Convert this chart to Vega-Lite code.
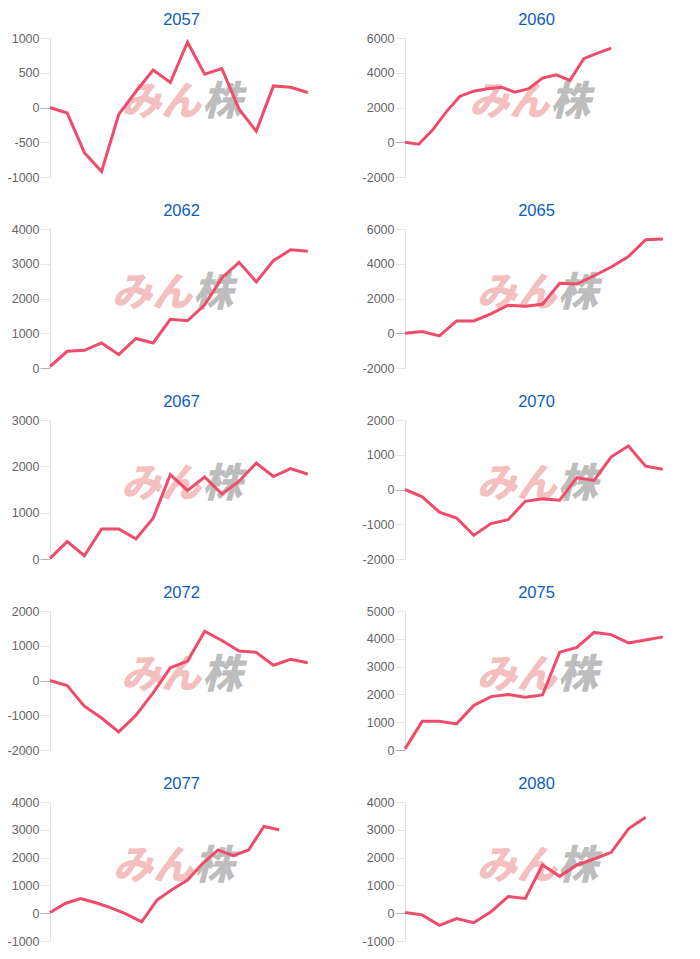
{
  "$schema": "https://vega.github.io/schema/vega-lite/v6.json",
  "padding": {"left": 7, "top": 11, "right": 0, "bottom": 0},
  "background": "white",
  "datasets": {
    "wa": [{"t": "みん"}],
    "wb": [{"t": "株"}],
    "d": [
      {"s": "2057", "i": 0, "v": 0}, {"s": "2057", "i": 1, "v": -80}, {"s": "2057", "i": 2, "v": -650}, {"s": "2057", "i": 3, "v": -920},
      {"s": "2057", "i": 4, "v": -100}, {"s": "2057", "i": 5, "v": 230}, {"s": "2057", "i": 6, "v": 540}, {"s": "2057", "i": 7, "v": 360},
      {"s": "2057", "i": 8, "v": 940}, {"s": "2057", "i": 9, "v": 480}, {"s": "2057", "i": 10, "v": 560}, {"s": "2057", "i": 11, "v": -25},
      {"s": "2057", "i": 12, "v": -340}, {"s": "2057", "i": 13, "v": 310}, {"s": "2057", "i": 14, "v": 290}, {"s": "2057", "i": 15, "v": 215},

      {"s": "2060", "i": 0, "v": 0}, {"s": "2060", "i": 1, "v": -115}, {"s": "2060", "i": 2, "v": 700}, {"s": "2060", "i": 3, "v": 1750},
      {"s": "2060", "i": 4, "v": 2650}, {"s": "2060", "i": 5, "v": 2940}, {"s": "2060", "i": 6, "v": 3080}, {"s": "2060", "i": 7, "v": 3170},
      {"s": "2060", "i": 8, "v": 2880}, {"s": "2060", "i": 9, "v": 3080}, {"s": "2060", "i": 10, "v": 3690}, {"s": "2060", "i": 11, "v": 3880},
      {"s": "2060", "i": 12, "v": 3560}, {"s": "2060", "i": 13, "v": 4810}, {"s": "2060", "i": 14, "v": 5130}, {"s": "2060", "i": 15, "v": 5420},

      {"s": "2062", "i": 0, "v": 40}, {"s": "2062", "i": 1, "v": 480}, {"s": "2062", "i": 2, "v": 510}, {"s": "2062", "i": 3, "v": 720},
      {"s": "2062", "i": 4, "v": 385}, {"s": "2062", "i": 5, "v": 850}, {"s": "2062", "i": 6, "v": 720}, {"s": "2062", "i": 7, "v": 1400},
      {"s": "2062", "i": 8, "v": 1360}, {"s": "2062", "i": 9, "v": 1820}, {"s": "2062", "i": 10, "v": 2590}, {"s": "2062", "i": 11, "v": 3040},
      {"s": "2062", "i": 12, "v": 2480}, {"s": "2062", "i": 13, "v": 3090}, {"s": "2062", "i": 14, "v": 3400}, {"s": "2062", "i": 15, "v": 3360},

      {"s": "2065", "i": 0, "v": 0}, {"s": "2065", "i": 1, "v": 100}, {"s": "2065", "i": 2, "v": -150}, {"s": "2065", "i": 3, "v": 710},
      {"s": "2065", "i": 4, "v": 710}, {"s": "2065", "i": 5, "v": 1115}, {"s": "2065", "i": 6, "v": 1615}, {"s": "2065", "i": 7, "v": 1560},
      {"s": "2065", "i": 8, "v": 1670}, {"s": "2065", "i": 9, "v": 2880}, {"s": "2065", "i": 10, "v": 2830}, {"s": "2065", "i": 11, "v": 3310},
      {"s": "2065", "i": 12, "v": 3810}, {"s": "2065", "i": 13, "v": 4420}, {"s": "2065", "i": 14, "v": 5380}, {"s": "2065", "i": 15, "v": 5420},

      {"s": "2067", "i": 0, "v": 15}, {"s": "2067", "i": 1, "v": 375}, {"s": "2067", "i": 2, "v": 70}, {"s": "2067", "i": 3, "v": 650},
      {"s": "2067", "i": 4, "v": 650}, {"s": "2067", "i": 5, "v": 435}, {"s": "2067", "i": 6, "v": 880}, {"s": "2067", "i": 7, "v": 1820},
      {"s": "2067", "i": 8, "v": 1480}, {"s": "2067", "i": 9, "v": 1770}, {"s": "2067", "i": 10, "v": 1400}, {"s": "2067", "i": 11, "v": 1680},
      {"s": "2067", "i": 12, "v": 2070}, {"s": "2067", "i": 13, "v": 1780}, {"s": "2067", "i": 14, "v": 1950}, {"s": "2067", "i": 15, "v": 1830},

      {"s": "2070", "i": 0, "v": 0}, {"s": "2070", "i": 1, "v": -210}, {"s": "2070", "i": 2, "v": -650}, {"s": "2070", "i": 3, "v": -820},
      {"s": "2070", "i": 4, "v": -1320}, {"s": "2070", "i": 5, "v": -980}, {"s": "2070", "i": 6, "v": -870}, {"s": "2070", "i": 7, "v": -340},
      {"s": "2070", "i": 8, "v": -270}, {"s": "2070", "i": 9, "v": -310}, {"s": "2070", "i": 10, "v": 340}, {"s": "2070", "i": 11, "v": 260},
      {"s": "2070", "i": 12, "v": 940}, {"s": "2070", "i": 13, "v": 1250}, {"s": "2070", "i": 14, "v": 670}, {"s": "2070", "i": 15, "v": 580},

      {"s": "2072", "i": 0, "v": 0}, {"s": "2072", "i": 1, "v": -145}, {"s": "2072", "i": 2, "v": -740}, {"s": "2072", "i": 3, "v": -1080},
      {"s": "2072", "i": 4, "v": -1480}, {"s": "2072", "i": 5, "v": -1000}, {"s": "2072", "i": 6, "v": -355}, {"s": "2072", "i": 7, "v": 365},
      {"s": "2072", "i": 8, "v": 560}, {"s": "2072", "i": 9, "v": 1420}, {"s": "2072", "i": 10, "v": 1150}, {"s": "2072", "i": 11, "v": 850},
      {"s": "2072", "i": 12, "v": 810}, {"s": "2072", "i": 13, "v": 440}, {"s": "2072", "i": 14, "v": 610}, {"s": "2072", "i": 15, "v": 510},

      {"s": "2075", "i": 0, "v": 40}, {"s": "2075", "i": 1, "v": 1030}, {"s": "2075", "i": 2, "v": 1030}, {"s": "2075", "i": 3, "v": 940},
      {"s": "2075", "i": 4, "v": 1600}, {"s": "2075", "i": 5, "v": 1920}, {"s": "2075", "i": 6, "v": 2000}, {"s": "2075", "i": 7, "v": 1900},
      {"s": "2075", "i": 8, "v": 1980}, {"s": "2075", "i": 9, "v": 3520}, {"s": "2075", "i": 10, "v": 3690}, {"s": "2075", "i": 11, "v": 4230},
      {"s": "2075", "i": 12, "v": 4150}, {"s": "2075", "i": 13, "v": 3850}, {"s": "2075", "i": 14, "v": 3960}, {"s": "2075", "i": 15, "v": 4070},

      {"s": "2077", "i": 0, "v": 25}, {"s": "2077", "i": 1, "v": 350}, {"s": "2077", "i": 2, "v": 530}, {"s": "2077", "i": 3, "v": 375},
      {"s": "2077", "i": 4, "v": 190}, {"s": "2077", "i": 5, "v": -35}, {"s": "2077", "i": 6, "v": -310}, {"s": "2077", "i": 7, "v": 470},
      {"s": "2077", "i": 8, "v": 855}, {"s": "2077", "i": 9, "v": 1190}, {"s": "2077", "i": 10, "v": 1795}, {"s": "2077", "i": 11, "v": 2275},
      {"s": "2077", "i": 12, "v": 2070}, {"s": "2077", "i": 13, "v": 2275}, {"s": "2077", "i": 14, "v": 3120}, {"s": "2077", "i": 15, "v": 3000},

      {"s": "2080", "i": 0, "v": 25}, {"s": "2080", "i": 1, "v": -60}, {"s": "2080", "i": 2, "v": -435}, {"s": "2080", "i": 3, "v": -190},
      {"s": "2080", "i": 4, "v": -340}, {"s": "2080", "i": 5, "v": 50}, {"s": "2080", "i": 6, "v": 600}, {"s": "2080", "i": 7, "v": 530},
      {"s": "2080", "i": 8, "v": 1735}, {"s": "2080", "i": 9, "v": 1325}, {"s": "2080", "i": 10, "v": 1735}, {"s": "2080", "i": 11, "v": 1950},
      {"s": "2080", "i": 12, "v": 2190}, {"s": "2080", "i": 13, "v": 3035}, {"s": "2080", "i": 14, "v": 3455}
    ]
  },
  "columns": 2,
  "spacing": {"row": 18, "column": 37},
  "concat": [
    {
      "title": "2057", "width": 275, "height": 139,
      "resolve": {"axis": {"x": "independent", "y": "independent"}},
      "layer": [
        {"data": {"name": "wa"}, "mark": {"type": "text", "align": "right", "baseline": "middle", "dx": 4, "font": "Noto Sans CJK JP", "fontSize": 40, "fontWeight": 900, "fontStyle": "italic", "color": "#f3bfbf"},
         "encoding": {"text": {"field": "t"}, "x": {"datum": 8.56, "type": "quantitative", "axis": null}, "y": {"datum": 70, "type": "quantitative", "axis": null}}},
        {"data": {"name": "wb"}, "mark": {"type": "text", "align": "left", "baseline": "middle", "dx": 5, "font": "Noto Sans CJK JP", "fontSize": 40, "fontWeight": 900, "fontStyle": "italic", "color": "#bdbdbd"},
         "encoding": {"text": {"field": "t"}, "x": {"datum": 8.56, "type": "quantitative", "axis": null}, "y": {"datum": 70, "type": "quantitative", "axis": null}}},
        {"data": {"name": "d"}, "transform": [{"filter": "datum.s === '2057'"}], "mark": {"type": "line", "color": "#ef4b6a", "strokeWidth": 3},
         "encoding": {"x": {"field": "i", "type": "quantitative", "scale": {"domain": [0, 16]}, "axis": null},
                      "y": {"field": "v", "type": "quantitative", "scale": {"domain": [-1000, 1000]},
                            "axis": {"values": [-1000, -500, 0, 500, 1000], "title": null, "labelFont": "Liberation Sans", "labelFontSize": 12.5, "labelColor": "#666666", "labelOverlap": false, "labelPadding": 1, "tickSize": 10, "domainColor": "#e0e0e0", "labelExpr": "datum.value < 0 ? '-' + abs(datum.value) : '' + datum.value", "gridColor": {"condition": {"test": "datum.value === 0", "value": "#b5b5b5"}, "value": "#e6e6e6"}, "tickColor": {"condition": {"test": "datum.value === 0", "value": "#b5b5b5"}, "value": "#e6e6e6"}}}}}
      ]
    },
    {
      "title": "2060", "width": 275, "height": 139,
      "resolve": {"axis": {"x": "independent", "y": "independent"}},
      "layer": [
        {"data": {"name": "wa"}, "mark": {"type": "text", "align": "right", "baseline": "middle", "dx": 4, "font": "Noto Sans CJK JP", "fontSize": 40, "fontWeight": 900, "fontStyle": "italic", "color": "#f3bfbf"},
         "encoding": {"text": {"field": "t"}, "x": {"datum": 10.2, "type": "quantitative", "axis": null}, "y": {"datum": 2240, "type": "quantitative", "axis": null}}},
        {"data": {"name": "wb"}, "mark": {"type": "text", "align": "left", "baseline": "middle", "dx": 5, "font": "Noto Sans CJK JP", "fontSize": 40, "fontWeight": 900, "fontStyle": "italic", "color": "#bdbdbd"},
         "encoding": {"text": {"field": "t"}, "x": {"datum": 10.2, "type": "quantitative", "axis": null}, "y": {"datum": 2240, "type": "quantitative", "axis": null}}},
        {"data": {"name": "d"}, "transform": [{"filter": "datum.s === '2060'"}], "mark": {"type": "line", "color": "#ef4b6a", "strokeWidth": 3},
         "encoding": {"x": {"field": "i", "type": "quantitative", "scale": {"domain": [0, 19]}, "axis": null},
                      "y": {"field": "v", "type": "quantitative", "scale": {"domain": [-2000, 6000]},
                            "axis": {"values": [-2000, 0, 2000, 4000, 6000], "title": null, "labelFont": "Liberation Sans", "labelFontSize": 12.5, "labelColor": "#666666", "labelOverlap": false, "labelPadding": 1, "tickSize": 10, "domainColor": "#e0e0e0", "labelExpr": "datum.value < 0 ? '-' + abs(datum.value) : '' + datum.value", "gridColor": {"condition": {"test": "datum.value === 0", "value": "#b5b5b5"}, "value": "#e6e6e6"}, "tickColor": {"condition": {"test": "datum.value === 0", "value": "#b5b5b5"}, "value": "#e6e6e6"}}}}}
      ]
    },
    {
      "title": "2062", "width": 275, "height": 139,
      "resolve": {"axis": {"x": "independent", "y": "independent"}},
      "layer": [
        {"data": {"name": "wa"}, "mark": {"type": "text", "align": "right", "baseline": "middle", "dx": 4, "font": "Noto Sans CJK JP", "fontSize": 40, "fontWeight": 900, "fontStyle": "italic", "color": "#f3bfbf"},
         "encoding": {"text": {"field": "t"}, "x": {"datum": 8.03, "type": "quantitative", "axis": null}, "y": {"datum": 2140, "type": "quantitative", "axis": null}}},
        {"data": {"name": "wb"}, "mark": {"type": "text", "align": "left", "baseline": "middle", "dx": 5, "font": "Noto Sans CJK JP", "fontSize": 40, "fontWeight": 900, "fontStyle": "italic", "color": "#bdbdbd"},
         "encoding": {"text": {"field": "t"}, "x": {"datum": 8.03, "type": "quantitative", "axis": null}, "y": {"datum": 2140, "type": "quantitative", "axis": null}}},
        {"data": {"name": "d"}, "transform": [{"filter": "datum.s === '2062'"}], "mark": {"type": "line", "color": "#ef4b6a", "strokeWidth": 3},
         "encoding": {"x": {"field": "i", "type": "quantitative", "scale": {"domain": [0, 15]}, "axis": null},
                      "y": {"field": "v", "type": "quantitative", "scale": {"domain": [0, 4000]},
                            "axis": {"values": [0, 1000, 2000, 3000, 4000], "title": null, "labelFont": "Liberation Sans", "labelFontSize": 12.5, "labelColor": "#666666", "labelOverlap": false, "labelPadding": 1, "tickSize": 10, "domainColor": "#e0e0e0", "labelExpr": "datum.value < 0 ? '-' + abs(datum.value) : '' + datum.value", "gridColor": {"condition": {"test": "datum.value === 0", "value": "#b5b5b5"}, "value": "#e6e6e6"}, "tickColor": {"condition": {"test": "datum.value === 0", "value": "#b5b5b5"}, "value": "#e6e6e6"}}}}}
      ]
    },
    {
      "title": "2065", "width": 275, "height": 139,
      "resolve": {"axis": {"x": "independent", "y": "independent"}},
      "layer": [
        {"data": {"name": "wa"}, "mark": {"type": "text", "align": "right", "baseline": "middle", "dx": 4, "font": "Noto Sans CJK JP", "fontSize": 40, "fontWeight": 900, "fontStyle": "italic", "color": "#f3bfbf"},
         "encoding": {"text": {"field": "t"}, "x": {"datum": 8.6, "type": "quantitative", "axis": null}, "y": {"datum": 2240, "type": "quantitative", "axis": null}}},
        {"data": {"name": "wb"}, "mark": {"type": "text", "align": "left", "baseline": "middle", "dx": 5, "font": "Noto Sans CJK JP", "fontSize": 40, "fontWeight": 900, "fontStyle": "italic", "color": "#bdbdbd"},
         "encoding": {"text": {"field": "t"}, "x": {"datum": 8.6, "type": "quantitative", "axis": null}, "y": {"datum": 2240, "type": "quantitative", "axis": null}}},
        {"data": {"name": "d"}, "transform": [{"filter": "datum.s === '2065'"}], "mark": {"type": "line", "color": "#ef4b6a", "strokeWidth": 3},
         "encoding": {"x": {"field": "i", "type": "quantitative", "scale": {"domain": [0, 16]}, "axis": null},
                      "y": {"field": "v", "type": "quantitative", "scale": {"domain": [-2000, 6000]},
                            "axis": {"values": [-2000, 0, 2000, 4000, 6000], "title": null, "labelFont": "Liberation Sans", "labelFontSize": 12.5, "labelColor": "#666666", "labelOverlap": false, "labelPadding": 1, "tickSize": 10, "domainColor": "#e0e0e0", "labelExpr": "datum.value < 0 ? '-' + abs(datum.value) : '' + datum.value", "gridColor": {"condition": {"test": "datum.value === 0", "value": "#b5b5b5"}, "value": "#e6e6e6"}, "tickColor": {"condition": {"test": "datum.value === 0", "value": "#b5b5b5"}, "value": "#e6e6e6"}}}}}
      ]
    },
    {
      "title": "2067", "width": 275, "height": 139,
      "resolve": {"axis": {"x": "independent", "y": "independent"}},
      "layer": [
        {"data": {"name": "wa"}, "mark": {"type": "text", "align": "right", "baseline": "middle", "dx": 4, "font": "Noto Sans CJK JP", "fontSize": 40, "fontWeight": 900, "fontStyle": "italic", "color": "#f3bfbf"},
         "encoding": {"text": {"field": "t"}, "x": {"datum": 8.56, "type": "quantitative", "axis": null}, "y": {"datum": 1600, "type": "quantitative", "axis": null}}},
        {"data": {"name": "wb"}, "mark": {"type": "text", "align": "left", "baseline": "middle", "dx": 5, "font": "Noto Sans CJK JP", "fontSize": 40, "fontWeight": 900, "fontStyle": "italic", "color": "#bdbdbd"},
         "encoding": {"text": {"field": "t"}, "x": {"datum": 8.56, "type": "quantitative", "axis": null}, "y": {"datum": 1600, "type": "quantitative", "axis": null}}},
        {"data": {"name": "d"}, "transform": [{"filter": "datum.s === '2067'"}], "mark": {"type": "line", "color": "#ef4b6a", "strokeWidth": 3},
         "encoding": {"x": {"field": "i", "type": "quantitative", "scale": {"domain": [0, 16]}, "axis": null},
                      "y": {"field": "v", "type": "quantitative", "scale": {"domain": [0, 3000]},
                            "axis": {"values": [0, 1000, 2000, 3000], "title": null, "labelFont": "Liberation Sans", "labelFontSize": 12.5, "labelColor": "#666666", "labelOverlap": false, "labelPadding": 1, "tickSize": 10, "domainColor": "#e0e0e0", "labelExpr": "datum.value < 0 ? '-' + abs(datum.value) : '' + datum.value", "gridColor": {"condition": {"test": "datum.value === 0", "value": "#b5b5b5"}, "value": "#e6e6e6"}, "tickColor": {"condition": {"test": "datum.value === 0", "value": "#b5b5b5"}, "value": "#e6e6e6"}}}}}
      ]
    },
    {
      "title": "2070", "width": 275, "height": 139,
      "resolve": {"axis": {"x": "independent", "y": "independent"}},
      "layer": [
        {"data": {"name": "wa"}, "mark": {"type": "text", "align": "right", "baseline": "middle", "dx": 4, "font": "Noto Sans CJK JP", "fontSize": 40, "fontWeight": 900, "fontStyle": "italic", "color": "#f3bfbf"},
         "encoding": {"text": {"field": "t"}, "x": {"datum": 8.6, "type": "quantitative", "axis": null}, "y": {"datum": 120, "type": "quantitative", "axis": null}}},
        {"data": {"name": "wb"}, "mark": {"type": "text", "align": "left", "baseline": "middle", "dx": 5, "font": "Noto Sans CJK JP", "fontSize": 40, "fontWeight": 900, "fontStyle": "italic", "color": "#bdbdbd"},
         "encoding": {"text": {"field": "t"}, "x": {"datum": 8.6, "type": "quantitative", "axis": null}, "y": {"datum": 120, "type": "quantitative", "axis": null}}},
        {"data": {"name": "d"}, "transform": [{"filter": "datum.s === '2070'"}], "mark": {"type": "line", "color": "#ef4b6a", "strokeWidth": 3},
         "encoding": {"x": {"field": "i", "type": "quantitative", "scale": {"domain": [0, 16]}, "axis": null},
                      "y": {"field": "v", "type": "quantitative", "scale": {"domain": [-2000, 2000]},
                            "axis": {"values": [-2000, -1000, 0, 1000, 2000], "title": null, "labelFont": "Liberation Sans", "labelFontSize": 12.5, "labelColor": "#666666", "labelOverlap": false, "labelPadding": 1, "tickSize": 10, "domainColor": "#e0e0e0", "labelExpr": "datum.value < 0 ? '-' + abs(datum.value) : '' + datum.value", "gridColor": {"condition": {"test": "datum.value === 0", "value": "#b5b5b5"}, "value": "#e6e6e6"}, "tickColor": {"condition": {"test": "datum.value === 0", "value": "#b5b5b5"}, "value": "#e6e6e6"}}}}}
      ]
    },
    {
      "title": "2072", "width": 275, "height": 139,
      "resolve": {"axis": {"x": "independent", "y": "independent"}},
      "layer": [
        {"data": {"name": "wa"}, "mark": {"type": "text", "align": "right", "baseline": "middle", "dx": 4, "font": "Noto Sans CJK JP", "fontSize": 40, "fontWeight": 900, "fontStyle": "italic", "color": "#f3bfbf"},
         "encoding": {"text": {"field": "t"}, "x": {"datum": 8.56, "type": "quantitative", "axis": null}, "y": {"datum": 120, "type": "quantitative", "axis": null}}},
        {"data": {"name": "wb"}, "mark": {"type": "text", "align": "left", "baseline": "middle", "dx": 5, "font": "Noto Sans CJK JP", "fontSize": 40, "fontWeight": 900, "fontStyle": "italic", "color": "#bdbdbd"},
         "encoding": {"text": {"field": "t"}, "x": {"datum": 8.56, "type": "quantitative", "axis": null}, "y": {"datum": 120, "type": "quantitative", "axis": null}}},
        {"data": {"name": "d"}, "transform": [{"filter": "datum.s === '2072'"}], "mark": {"type": "line", "color": "#ef4b6a", "strokeWidth": 3},
         "encoding": {"x": {"field": "i", "type": "quantitative", "scale": {"domain": [0, 16]}, "axis": null},
                      "y": {"field": "v", "type": "quantitative", "scale": {"domain": [-2000, 2000]},
                            "axis": {"values": [-2000, -1000, 0, 1000, 2000], "title": null, "labelFont": "Liberation Sans", "labelFontSize": 12.5, "labelColor": "#666666", "labelOverlap": false, "labelPadding": 1, "tickSize": 10, "domainColor": "#e0e0e0", "labelExpr": "datum.value < 0 ? '-' + abs(datum.value) : '' + datum.value", "gridColor": {"condition": {"test": "datum.value === 0", "value": "#b5b5b5"}, "value": "#e6e6e6"}, "tickColor": {"condition": {"test": "datum.value === 0", "value": "#b5b5b5"}, "value": "#e6e6e6"}}}}}
      ]
    },
    {
      "title": "2075", "width": 275, "height": 139,
      "resolve": {"axis": {"x": "independent", "y": "independent"}},
      "layer": [
        {"data": {"name": "wa"}, "mark": {"type": "text", "align": "right", "baseline": "middle", "dx": 4, "font": "Noto Sans CJK JP", "fontSize": 40, "fontWeight": 900, "fontStyle": "italic", "color": "#f3bfbf"},
         "encoding": {"text": {"field": "t"}, "x": {"datum": 8.6, "type": "quantitative", "axis": null}, "y": {"datum": 2650, "type": "quantitative", "axis": null}}},
        {"data": {"name": "wb"}, "mark": {"type": "text", "align": "left", "baseline": "middle", "dx": 5, "font": "Noto Sans CJK JP", "fontSize": 40, "fontWeight": 900, "fontStyle": "italic", "color": "#bdbdbd"},
         "encoding": {"text": {"field": "t"}, "x": {"datum": 8.6, "type": "quantitative", "axis": null}, "y": {"datum": 2650, "type": "quantitative", "axis": null}}},
        {"data": {"name": "d"}, "transform": [{"filter": "datum.s === '2075'"}], "mark": {"type": "line", "color": "#ef4b6a", "strokeWidth": 3},
         "encoding": {"x": {"field": "i", "type": "quantitative", "scale": {"domain": [0, 16]}, "axis": null},
                      "y": {"field": "v", "type": "quantitative", "scale": {"domain": [0, 5000]},
                            "axis": {"values": [0, 1000, 2000, 3000, 4000, 5000], "title": null, "labelFont": "Liberation Sans", "labelFontSize": 12.5, "labelColor": "#666666", "labelOverlap": false, "labelPadding": 1, "tickSize": 10, "domainColor": "#e0e0e0", "labelExpr": "datum.value < 0 ? '-' + abs(datum.value) : '' + datum.value", "gridColor": {"condition": {"test": "datum.value === 0", "value": "#b5b5b5"}, "value": "#e6e6e6"}, "tickColor": {"condition": {"test": "datum.value === 0", "value": "#b5b5b5"}, "value": "#e6e6e6"}}}}}
      ]
    },
    {
      "title": "2077", "width": 275, "height": 139,
      "resolve": {"axis": {"x": "independent", "y": "independent"}},
      "layer": [
        {"data": {"name": "wa"}, "mark": {"type": "text", "align": "right", "baseline": "middle", "dx": 4, "font": "Noto Sans CJK JP", "fontSize": 40, "fontWeight": 900, "fontStyle": "italic", "color": "#f3bfbf"},
         "encoding": {"text": {"field": "t"}, "x": {"datum": 9.1, "type": "quantitative", "axis": null}, "y": {"datum": 1650, "type": "quantitative", "axis": null}}},
        {"data": {"name": "wb"}, "mark": {"type": "text", "align": "left", "baseline": "middle", "dx": 5, "font": "Noto Sans CJK JP", "fontSize": 40, "fontWeight": 900, "fontStyle": "italic", "color": "#bdbdbd"},
         "encoding": {"text": {"field": "t"}, "x": {"datum": 9.1, "type": "quantitative", "axis": null}, "y": {"datum": 1650, "type": "quantitative", "axis": null}}},
        {"data": {"name": "d"}, "transform": [{"filter": "datum.s === '2077'"}], "mark": {"type": "line", "color": "#ef4b6a", "strokeWidth": 3},
         "encoding": {"x": {"field": "i", "type": "quantitative", "scale": {"domain": [0, 17]}, "axis": null},
                      "y": {"field": "v", "type": "quantitative", "scale": {"domain": [-1000, 4000]},
                            "axis": {"values": [-1000, 0, 1000, 2000, 3000, 4000], "title": null, "labelFont": "Liberation Sans", "labelFontSize": 12.5, "labelColor": "#666666", "labelOverlap": false, "labelPadding": 1, "tickSize": 10, "domainColor": "#e0e0e0", "labelExpr": "datum.value < 0 ? '-' + abs(datum.value) : '' + datum.value", "gridColor": {"condition": {"test": "datum.value === 0", "value": "#b5b5b5"}, "value": "#e6e6e6"}, "tickColor": {"condition": {"test": "datum.value === 0", "value": "#b5b5b5"}, "value": "#e6e6e6"}}}}}
      ]
    },
    {
      "title": "2080", "width": 275, "height": 139,
      "resolve": {"axis": {"x": "independent", "y": "independent"}},
      "layer": [
        {"data": {"name": "wa"}, "mark": {"type": "text", "align": "right", "baseline": "middle", "dx": 4, "font": "Noto Sans CJK JP", "fontSize": 40, "fontWeight": 900, "fontStyle": "italic", "color": "#f3bfbf"},
         "encoding": {"text": {"field": "t"}, "x": {"datum": 8.6, "type": "quantitative", "axis": null}, "y": {"datum": 1650, "type": "quantitative", "axis": null}}},
        {"data": {"name": "wb"}, "mark": {"type": "text", "align": "left", "baseline": "middle", "dx": 5, "font": "Noto Sans CJK JP", "fontSize": 40, "fontWeight": 900, "fontStyle": "italic", "color": "#bdbdbd"},
         "encoding": {"text": {"field": "t"}, "x": {"datum": 8.6, "type": "quantitative", "axis": null}, "y": {"datum": 1650, "type": "quantitative", "axis": null}}},
        {"data": {"name": "d"}, "transform": [{"filter": "datum.s === '2080'"}], "mark": {"type": "line", "color": "#ef4b6a", "strokeWidth": 3},
         "encoding": {"x": {"field": "i", "type": "quantitative", "scale": {"domain": [0, 16]}, "axis": null},
                      "y": {"field": "v", "type": "quantitative", "scale": {"domain": [-1000, 4000]},
                            "axis": {"values": [-1000, 0, 1000, 2000, 3000, 4000], "title": null, "labelFont": "Liberation Sans", "labelFontSize": 12.5, "labelColor": "#666666", "labelOverlap": false, "labelPadding": 1, "tickSize": 10, "domainColor": "#e0e0e0", "labelExpr": "datum.value < 0 ? '-' + abs(datum.value) : '' + datum.value", "gridColor": {"condition": {"test": "datum.value === 0", "value": "#b5b5b5"}, "value": "#e6e6e6"}, "tickColor": {"condition": {"test": "datum.value === 0", "value": "#b5b5b5"}, "value": "#e6e6e6"}}}}}
      ]
    }
  ],
  "config": {
    "view": {"stroke": null},
    "font": "Liberation Sans",
    "title": {"fontSize": 16.5, "font": "Liberation Sans", "fontWeight": "normal", "color": "#0d5dbe", "offset": 4, "anchor": "middle", "frame": "group", "dx": -6},
    "axisY": {"title": null, "labelFont": "Liberation Sans", "labelFontSize": 12.5, "labelColor": "#666666", "tickSize": 10, "labelPadding": 1, "domainColor": "#e0e0e0", "labelOverlap": false},
    "axisX": {"title": null},
    "line": {"strokeJoin": "miter"}
  }
}
